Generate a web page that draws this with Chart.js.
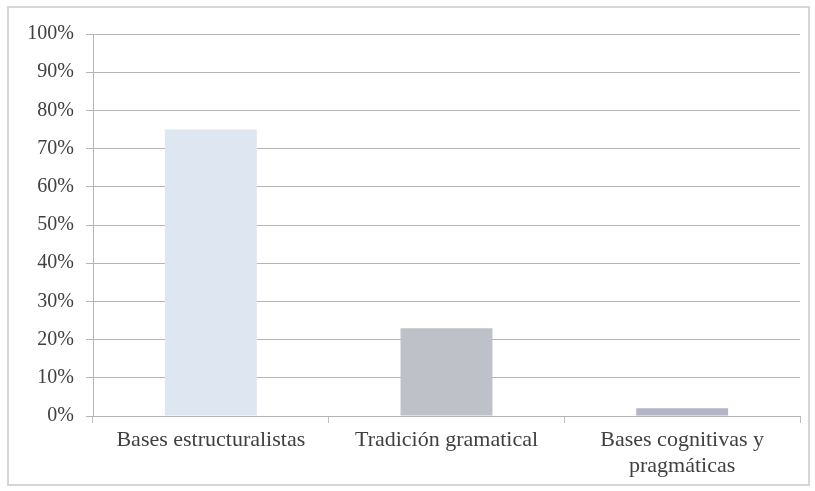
<!DOCTYPE html>
<html>
<head>
<meta charset="utf-8">
<script src="https://cdn.jsdelivr.net/npm/chart.js@4.4.0/dist/chart.umd.min.js"></script>
<style>
  html, body { margin: 0; padding: 0; background: #fff; }
  #wrap { position: relative; width: 815px; height: 491px; }
  #frame { position: absolute; left: 7px; top: 6px; width: 803px; height: 480px; border: 2px solid #d6d6d6; box-sizing: border-box; pointer-events: none; }
  canvas { position: absolute; left: 0; top: 0; }
</style>
</head>
<body>
<div id="wrap">
  <canvas id="chart" width="815" height="491"></canvas>
  <div id="frame"></div>
</div>
<script>
// Share of approaches (percent of total)
const categories = ["Bases estructuralistas", "Tradición gramatical", ["Bases cognitivas y", "pragmáticas"]];
const shares = [75, 23, 2];
const barColors = ["#dde6f1", "#bfc1c9", "#b4b5c6"];
const yTicks = [0, 10, 20, 30, 40, 50, 60, 70, 80, 90, 100];

const serif = "'Liberation Serif', 'Times New Roman', serif";

new Chart(document.getElementById("chart"), {
  type: "bar",
  data: {
    labels: categories,
    datasets: [{
      data: shares,
      backgroundColor: barColors,
      borderWidth: 0,
      barPercentage: 0.39,
      categoryPercentage: 1
    }]
  },
  options: {
    responsive: false,
    animation: false,
    layout: { padding: { top: 34, right: 15, bottom: 0, left: 0 } },
    plugins: { legend: { display: false }, tooltip: { enabled: false } },
    scales: {
      x: {
        grid: { drawOnChartArea: false, drawTicks: true, tickLength: 7, color: "#bdbdbd", lineWidth: 1 },
        border: { display: true, color: "#b5b5b5", width: 1 },
        ticks: {
          color: "#404040",
          padding: 5,
          maxRotation: 0,
          autoSkip: false,
          font: { family: serif, size: 22, lineHeight: 1.15 }
        },
        afterFit: (s) => { s.height = 75; }
      },
      y: {
        min: 0,
        max: 100,
        afterBuildTicks: (s) => { s.ticks = yTicks.map(v => ({ value: v })); },
        grid: { color: "#b5b5b5", lineWidth: 1, tickLength: 7, drawTicks: true },
        border: { display: true, color: "#b5b5b5", width: 1 },
        ticks: {
          color: "#404040",
          padding: 12,
          callback: (v) => v + "%",
          font: { family: serif, size: 20 }
        },
        afterFit: (s) => { s.width = 93; }
      }
    }
  }
});
</script>
</body>
</html>
